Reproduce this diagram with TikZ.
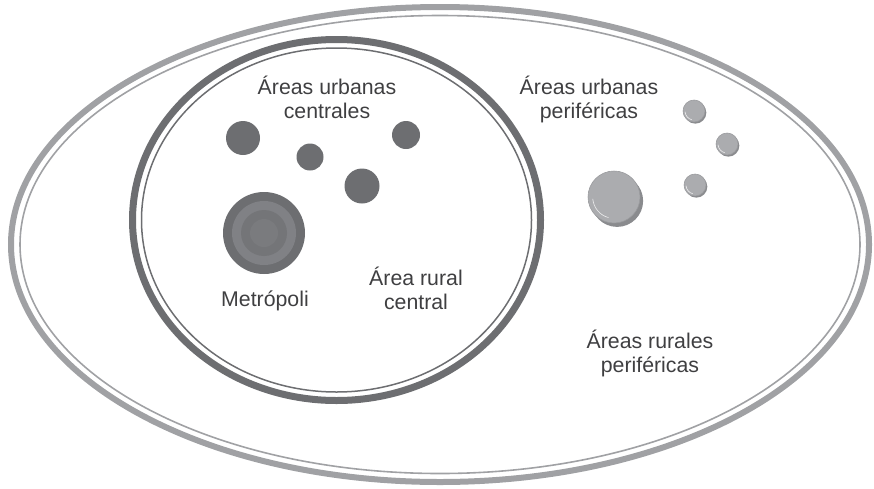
\documentclass[tikz,border=0pt]{standalone}
\usepackage{fontspec}
\setmainfont{Liberation Sans}
\begin{document}
\definecolor{rimlight}{HTML}{A0A1A4}
\definecolor{rimdark}{HTML}{6D6E71}
\definecolor{dotdark}{HTML}{6D6E71}
\definecolor{ringlight}{HTML}{808185}
\definecolor{spherefill}{HTML}{ABACAF}
\definecolor{sphereedge}{HTML}{9A9B9E}
\definecolor{sphereshadow}{HTML}{8A8B8E}
\definecolor{labelgray}{HTML}{3F3F41}
\begin{tikzpicture}[x=1pt,y=-1pt,
  lbl/.style={text=labelgray,font=\fontsize{21.3}{24}\selectfont,align=center,inner sep=0pt},
  citydot/.style={circle,fill=dotdark,draw=none,inner sep=0pt,minimum size=#1},
]
\useasboundingbox (0,0) rectangle (874,488);

% outer region: thick rim with a thin inner line
\draw[rimlight,line width=6pt] (440,244.5) ellipse [x radius=429,y radius=237.5];
\draw[rimlight,line width=1.6pt] (440,244.5) ellipse [x radius=420,y radius=229];

% central region
\draw[rimdark,line width=7pt] (336.5,220) ellipse [x radius=204,y radius=180.5];
\draw[rimdark,line width=1.5pt] (336.5,220) ellipse [x radius=195,y radius=172];

% central urban areas
\node[citydot=34pt] (u1) at (243,138) {};
\node[citydot=27pt] (u2) at (310,157) {};
\node[citydot=28pt] (u3) at (406,135) {};
\node[citydot=35pt] (u4) at (362,186) {};

% metropolis with concentric rings
\fill[dotdark] (264,233) circle[radius=41];
\fill[ringlight] (264,233) circle[radius=32];
\fill[dotdark!95!white] (264,233) circle[radius=23];
\fill[ringlight!95!black] (264,233) circle[radius=14];
\coordinate (metro) at (264,233);

% peripheral urban areas: grey spheres with shadow and highlight
\foreach \cx/\cy/\r in {614/197/26, 694/111/11, 727/144/11, 695/185/11}{
  \fill[sphereshadow] (\cx+0.12*\r,\cy+0.15*\r) circle[radius=\r];
  \fill[spherefill,draw=sphereedge,line width=0.6pt] (\cx,\cy) circle[radius=\r];
  \draw[white!80!spherefill,line width=0.6pt] (\cx,\cy) ++(105:{0.82*\r}) arc[start angle=105,end angle=175,radius={0.82*\r}];
}

% labels
\node[lbl] (lc) at (327,97) {Áreas urbanas\\centrales};
\node[lbl] (lp) at (589,99) {Áreas urbanas\\periféricas};
\node[lbl] (lm) at (265,301) {Metrópoli};
\node[lbl] (lr) at (416,288) {Área rural\\central};
\node[lbl] (lrp) at (650,353) {Áreas rurales\\periféricas};
\end{tikzpicture}
\end{document}
